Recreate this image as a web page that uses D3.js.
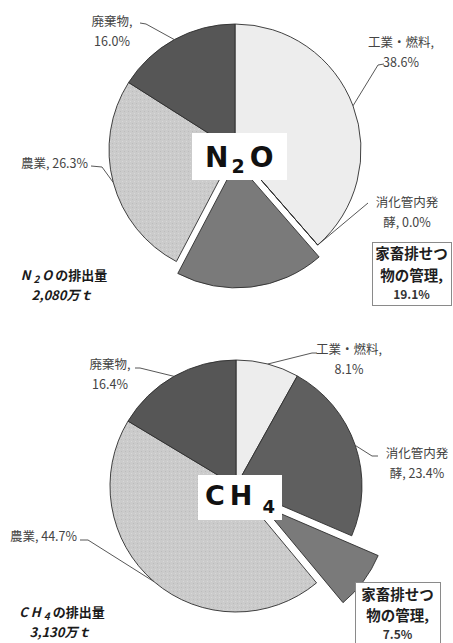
<!DOCTYPE html>
<html lang="ja">
<head>
<meta charset="UTF-8"/>
<title>N2O・CH4 排出量の内訳</title>
<script src="https://d3js.org/d3.v7.min.js"></script>
<style>
  body { margin: 0; background: #fff; }
  svg text { font-family: "Noto Sans CJK JP", "Noto Sans", sans-serif; }
</style>
</head>
<body>
<script>
var w = 453;
var h = 643;

// data
var categories = ["工業・燃料", "消化管内発酵", "家畜排せつ物の管理", "農業", "廃棄物"];
var n2oValues = [38.6, 0.0, 19.1, 26.3, 16.0];
var ch4Values = [8.1, 23.4, 7.5, 44.7, 16.4];
var gasNames = ["N2O", "CH4"];
var totals = ["2,080万ｔ", "3,130万ｔ"];

// styles
var sliceColors = ["#ededed", "#5f5f5f", "#7a7a7a", "url(#dots)", "#565656"];
var boxedIndex = 2;
// where each label text is broken into lines (character counts)
var lineBreaks = [[6], [5], [5, 10], [], [4]];

var layouts = [
    { cx: 235, cy: 150, r: 126, explode: 12,
      title: { x: 192, y: 133, w: 95, h: 47, tx: 205, ty: 167, size: 28, sub: 19, ls: 0, dx: [0, 3, 5], drop: 6 },
      caption: { x: 64, y: 280 },
      box: { x: 372, y: 242, w: 79, h: 63, lines: [17, 39, 57] },
      labels: [
          { x: 401, y: 47, anchor: "middle", elbow: [[378, 65], [384, 64]] },
          { x: 407, y: 207, anchor: "middle", elbow: [[362, 208], [368, 203]] },
          null,
          { x: 88, y: 168, anchor: "end", elbow: [[102, 167], [91, 166]] },
          { x: 112, y: 26, anchor: "middle", elbow: [[146, 24], [140, 23]] }
      ] },
    { cx: 236, cy: 486, r: 126, explode: 33,
      title: { x: 198, y: 475, w: 84, h: 45, tx: 205, ty: 505, size: 27, sub: 18, ls: 5, dx: [0, 5], drop: 8 },
      caption: { x: 62, y: 617 },
      box: { x: 355, y: 582, w: 85, h: 70, lines: [18, 39, 57] },
      labels: [
          { x: 349, y: 354, anchor: "middle", elbow: [[312, 353], [317, 353]] },
          { x: 417, y: 458, anchor: "middle", elbow: [[372, 456], [378, 456]] },
          null,
          { x: 77, y: 541, anchor: "end", elbow: [[88, 540], [80, 540]] },
          { x: 110, y: 369, anchor: "middle", elbow: [[140, 368], [135, 368]] }
      ] }
];

var svg = d3.select("body")
            .append("svg")
            .attr("width", w)
            .attr("height", h);

// fine speckle for the 農業 slice
var pat = svg.append("defs").append("pattern")
             .attr("id", "dots")
             .attr("width", 4)
             .attr("height", 4)
             .attr("patternUnits", "userSpaceOnUse");
pat.append("rect").attr("width", 4).attr("height", 4).attr("fill", "#cbcbcb");
pat.append("rect").attr("x", 1).attr("y", 1).attr("width", 1).attr("height", 1).attr("fill", "#bcbcbc");
pat.append("rect").attr("x", 3).attr("y", 3).attr("width", 1).attr("height", 1).attr("fill", "#d8d8d8");

function labelLines(i, values) {
    var full = categories[i] + ", " + values[i].toFixed(1) + "%";
    var lines = [];
    var start = 0;
    lineBreaks[i].forEach(function(b) {
        lines.push(full.slice(start, b).trim());
        start = b;
    });
    lines.push(full.slice(start).trim());
    return lines;
}

// split "N2O" into pieces, digits become subscripts
function gasParts(name) {
    return name.split(/(\d)/).filter(function(s) { return s !== ""; });
}

function drawChart(values, k) {
    var L = layouts[k];
    var pie = d3.pie().sort(null).value(function(d) { return d; });
    var arcs = pie(values);
    var arc = d3.arc().innerRadius(0).outerRadius(L.r);
    var edge = d3.arc().innerRadius(L.r).outerRadius(L.r);

    var g = svg.append("g")
               .attr("transform", "translate(" + L.cx + "," + L.cy + ")");

    g.selectAll("path.slice")
     .data(arcs)
     .enter()
     .append("path")
     .attr("class", "slice")
     .attr("d", arc)
     .attr("fill", function(d, i) { return sliceColors[i]; })
     .attr("stroke", "#2e2e2e")
     .attr("stroke-width", 0.9)
     .attr("stroke-linejoin", "round")
     .attr("transform", function(d, i) {
         if (i !== boxedIndex) return null;
         var a = (d.startAngle + d.endAngle) / 2;
         return "translate(" + (L.explode * Math.sin(a)) + "," + (-L.explode * Math.cos(a)) + ")";
     });

    // leader lines and labels
    arcs.forEach(function(d, i) {
        var lab = L.labels[i];
        if (!lab) return;
        var p = edge.centroid(d);
        var pts = [[L.cx + p[0], L.cy + p[1]]].concat(lab.elbow);
        svg.append("path")
           .attr("d", d3.line()(pts))
           .attr("fill", "none")
           .attr("stroke", "#444")
           .attr("stroke-width", 0.9);

        var t = svg.append("text")
                   .attr("text-anchor", lab.anchor)
                   .attr("font-size", 12.5)
                   .attr("fill", "#444");
        labelLines(i, values).forEach(function(line, j) {
            t.append("tspan")
             .attr("x", lab.x)
             .attr("y", lab.y + j * 19.5)
             .text(line);
        });
    });

    // boxed label for 家畜排せつ物の管理
    var B = L.box;
    svg.append("rect")
       .attr("x", B.x + 0.5)
       .attr("y", B.y + 0.5)
       .attr("width", B.w)
       .attr("height", B.h)
       .attr("fill", "#fff")
       .attr("stroke", "#8a8a8a")
       .attr("stroke-width", 1);
    labelLines(boxedIndex, values).forEach(function(line, j) {
        svg.append("text")
           .attr("x", B.x + B.w / 2)
           .attr("y", B.y + B.lines[j])
           .attr("text-anchor", "middle")
           .attr("font-size", j < 2 ? 14.5 : 12)
           .attr("font-weight", "bold")
           .attr("fill", j < 2 ? "#1e1e1e" : "#333")
           .text(line);
    });

    // gas name in the white box
    var T = L.title;
    svg.append("rect")
       .attr("x", T.x)
       .attr("y", T.y)
       .attr("width", T.w)
       .attr("height", T.h)
       .attr("fill", "#fff");
    var tt = svg.append("text")
                .attr("x", T.tx)
                .attr("y", T.ty)
                .attr("font-size", T.size)
                .attr("font-weight", "bold")
                .attr("fill", "#111")
                .style("font-family", "'DejaVu Sans', sans-serif");
    var shift = 0;
    gasParts(gasNames[k]).forEach(function(s, j) {
        var isSub = /\d/.test(s);
        tt.append("tspan")
          .attr("dx", T.dx[j])
          .attr("dy", (isSub ? T.drop : 0) - shift)
          .attr("font-size", isSub ? T.sub : T.size)
          .attr("letter-spacing", isSub ? 0 : T.ls)
          .text(s);
        shift = isSub ? T.drop : 0;
    });

    // total emissions caption
    var C = L.caption;
    var ct = svg.append("text")
                .attr("x", C.x)
                .attr("y", C.y)
                .attr("text-anchor", "middle")
                .attr("font-size", 13)
                .attr("font-weight", "bold")
                .attr("fill", "#1a1a1a");
    var sh = 0;
    gasParts(gasNames[k]).forEach(function(s) {
        var isSub = /\d/.test(s);
        ct.append("tspan")
          .attr("dy", (isSub ? 3 : 0) - sh)
          .attr("font-size", isSub ? 10 : 13)
          .attr("font-style", "italic")
          .attr("letter-spacing", 3)
          .text(s);
        sh = isSub ? 3 : 0;
    });
    ct.append("tspan").attr("dy", -sh).text("の排出量");
    svg.append("text")
       .attr("x", C.x - 2)
       .attr("y", C.y + 20)
       .attr("text-anchor", "middle")
       .attr("font-size", 13)
       .attr("font-weight", "bold")
       .attr("font-style", "italic")
       .attr("fill", "#1a1a1a")
       .text(totals[k]);
}

drawChart(n2oValues, 0);
drawChart(ch4Values, 1);
</script>
</body>
</html>
